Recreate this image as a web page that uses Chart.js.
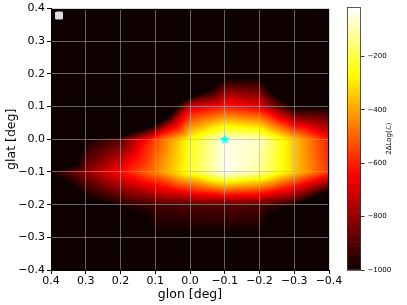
<!DOCTYPE html>
<html>
<head>
<meta charset="utf-8">
<script src="https://cdn.jsdelivr.net/npm/chart.js@4.4.1/dist/chart.umd.min.js"></script>
<style>
  html, body { margin: 0; padding: 0; background: #fff; }
  #wrap { position: relative; width: 407px; height: 305px; }
  #main { position: absolute; left: 0; top: 0; }
  #cbar { position: absolute; left: 329px; top: 0; }
</style>
</head>
<body>
<div id="wrap">
  <canvas id="main" width="407" height="305" style="width:407px;height:305px"></canvas>
  <canvas id="cbar" width="78" height="305" style="width:78px;height:305px"></canvas>
</div>
<script>
// grid nodes (deg) and 2ΔLog(L), rows go from glat 0.4 down to -0.4
const glonVals = [0.4, 0.3, 0.2, 0.1, 0.0, -0.1, -0.2, -0.3, -0.4];
const glatVals = [0.4, 0.3, 0.2, 0.1, 0.0, -0.1, -0.2, -0.3, -0.4];
const tsGrid = [
  [-3000, -3000, -3000, -3000, -3000, -3000, -3000, -3000, -3000],
  [-2800, -2700, -2600, -2400, -2200, -2000, -2000, -2200, -2400],
  [-2500, -2400, -2200, -2000, -1700, -1045, -1045, -1600, -1700],
  [-2200, -2100, -2000, -1500,  -690,  -590,  -660, -1000, -1000],
  [-2000, -1000,  -880,  -540,  -250,   -35,   -70,  -350,  -600],
  [ -985,  -820,  -630,  -460,  -230,   -30,  -110,  -340,  -570],
  [-1300, -1060,  -970,  -920,  -900,  -890,  -900,  -990, -1300],
  [-2000, -1700, -1300, -1012, -1010, -1010, -1012, -1400, -2000],
  [-2600, -2400, -2200, -2000, -1900, -1900, -2000, -2200, -2500]
];
const starLon = [-0.1];
const starLat = [0.0];
const xTicks = [0.4, 0.3, 0.2, 0.1, 0.0, -0.1, -0.2, -0.3, -0.4];
const yTicks = [-0.4, -0.3, -0.2, -0.1, 0.0, 0.1, 0.2, 0.3, 0.4];
const cbTicks = [-200, -400, -600, -800, -1000];
const tsMin = -1000;
const tsMax = -16;
const nLevels = 100;

Chart.defaults.font.family = "'DejaVu Sans', sans-serif";
Chart.defaults.color = '#000';

function hot(t) {
  t = Math.max(0, Math.min(1, t));
  const r = t < 0.365079 ? 0.0416 + (1 - 0.0416) * t / 0.365079 : 1;
  const g = t < 0.365079 ? 0 : (t < 0.746032 ? (t - 0.365079) / (0.746032 - 0.365079) : 1);
  const b = t < 0.746032 ? 0 : (t - 0.746032) / (1 - 0.746032);
  return [Math.round(r * 255), Math.round(g * 255), Math.round(b * 255)];
}
function levelColor(v) {
  const step = (tsMax - tsMin) / nLevels;
  let k = Math.floor((v - tsMin) / step);
  if (k < 0) k = 0;
  if (k > nLevels - 1) k = nLevels - 1;
  return hot((k + 0.5) / nLevels);
}

// linear interpolation on 4 triangles per cell (centre = mean of the corners)
function tsAt(lon, lat) {
  const dLon = glonVals[0] - glonVals[1];
  const dLat = glatVals[0] - glatVals[1];
  const fi = (glonVals[0] - lon) / dLon;
  const fj = (glatVals[0] - lat) / dLat;
  const i = Math.min(Math.max(Math.floor(fi), 0), glonVals.length - 2);
  const j = Math.min(Math.max(Math.floor(fj), 0), glatVals.length - 2);
  const u = fi - i, v = fj - j;
  const a = tsGrid[j][i], b = tsGrid[j][i + 1];
  const c = tsGrid[j + 1][i], d = tsGrid[j + 1][i + 1];
  const m = (a + b + c + d) / 4;
  if (v <= u && v <= 1 - u) return a + (b - a) * u + (2 * m - a - b) * v;
  if (v >= u && v >= 1 - u) return c + (d - c) * u + (2 * m - c - d) * (1 - v);
  if (u <= v && u <= 1 - v) return a + (c - a) * v + (2 * m - a - c) * u;
  return b + (d - b) * v + (2 * m - b - d) * (1 - u);
}

function fmtTick(val) {
  if (Math.abs(val) < 1e-9) return '0.0';
  return val.toFixed(1).replace('-', '\u2212');
}

function makeStar(size, color) {
  const c = document.createElement('canvas');
  c.width = size; c.height = size;
  const g = c.getContext('2d');
  const R = size / 2, r = R * 0.382;
  g.beginPath();
  for (let k = 0; k < 10; k++) {
    const ang = -Math.PI / 2 + k * Math.PI / 5;
    const rad = k % 2 === 0 ? R : r;
    g.lineTo(R + rad * Math.cos(ang), R + rad * Math.sin(ang));
  }
  g.closePath();
  g.fillStyle = color;
  g.fill();
  return c;
}

let heatImg = null;
const heatmapPlugin = {
  id: 'heatmap',
  beforeDraw(chart) {
    const area = chart.chartArea;
    const xs = chart.scales.x, ys = chart.scales.y;
    const w = Math.round(area.right - area.left), h = Math.round(area.bottom - area.top);
    if (!heatImg) {
      heatImg = document.createElement('canvas');
      heatImg.width = w; heatImg.height = h;
      const g = heatImg.getContext('2d');
      const img = g.createImageData(w, h);
      for (let py = 0; py < h; py++) {
        const lat = ys.getValueForPixel(area.top + py + 0.5);
        for (let px = 0; px < w; px++) {
          const lon = xs.getValueForPixel(area.left + px + 0.5);
          const col = levelColor(tsAt(lon, lat));
          const o = (py * w + px) * 4;
          img.data[o] = col[0]; img.data[o + 1] = col[1]; img.data[o + 2] = col[2]; img.data[o + 3] = 255;
        }
      }
      g.putImageData(img, 0, 0);
    }
    chart.ctx.drawImage(heatImg, Math.round(area.left), Math.round(area.top));
  },
  afterDraw(chart) {
    const ctx = chart.ctx, a = chart.chartArea;
    ctx.save();
    ctx.strokeStyle = '#000';
    ctx.lineWidth = 1;
    ctx.strokeRect(Math.round(a.left) + 0.5, Math.round(a.top) + 0.5,
      Math.round(a.right - a.left) - 1, Math.round(a.bottom - a.top) - 1);
    // empty legend frame
    ctx.fillStyle = '#dcdcdc';
    ctx.beginPath();
    ctx.roundRect(a.left + 4, a.top + 3, 8, 8, 1.5);
    ctx.fill();
    ctx.restore();
  }
};

const starData = starLon.map((lon, k) => ({ x: lon, y: starLat[k] }));

new Chart(document.getElementById('main'), {
  type: 'scatter',
  data: {
    datasets: [{
      data: starData,
      pointStyle: makeStar(11, '#00ffff'),
      pointRadius: 5
    }]
  },
  options: {
    responsive: false,
    animation: false,
    layout: { padding: { left: 0, top: 8, right: 78, bottom: 0 } },
    plugins: { legend: { display: false }, tooltip: { enabled: false } },
    scales: {
      x: {
        type: 'linear',
        reverse: true,
        min: -0.4,
        max: 0.4,
        afterBuildTicks: s => { s.ticks = xTicks.map(v => ({ value: v })); },
        afterFit: s => { s.height = 35; },
        ticks: { callback: fmtTick, font: { size: 11 }, padding: 1, maxRotation: 0, autoSkip: false },
        grid: { color: 'rgba(176,176,176,0.55)', tickColor: '#000', tickLength: 4, lineWidth: 1 },
        border: { color: '#000' },
        title: { display: true, text: 'glon [deg]', font: { size: 12.5 }, padding: { top: 0, bottom: 3 } }
      },
      y: {
        type: 'linear',
        min: -0.4,
        max: 0.4,
        afterBuildTicks: s => { s.ticks = yTicks.map(v => ({ value: v })); },
        afterFit: s => { s.width = 51; },
        ticks: { callback: fmtTick, font: { size: 11 }, padding: 2, autoSkip: false },
        grid: { color: 'rgba(176,176,176,0.55)', tickColor: '#000', tickLength: 4, lineWidth: 1 },
        border: { color: '#000' },
        title: { display: true, text: 'glat [deg]', font: { size: 12.5 }, padding: { top: 4, bottom: 0 } }
      }
    }
  },
  plugins: [heatmapPlugin]
});

const colorbarPlugin = {
  id: 'colorbar',
  beforeDraw(chart) {
    const ctx = chart.ctx, a = chart.chartArea, ys = chart.scales.y;
    const step = (tsMax - tsMin) / nLevels;
    for (let k = 0; k < nLevels; k++) {
      const y0 = ys.getPixelForValue(tsMin + k * step);
      const y1 = ys.getPixelForValue(tsMin + (k + 1) * step);
      const c = hot((k + 0.5) / nLevels);
      ctx.fillStyle = 'rgb(' + c[0] + ',' + c[1] + ',' + c[2] + ')';
      ctx.fillRect(a.left, y1, a.right - a.left, y0 - y1 + 0.6);
    }
  },
  afterDraw(chart) {
    const ctx = chart.ctx, a = chart.chartArea;
    ctx.save();
    ctx.strokeStyle = '#333';
    ctx.lineWidth = 0.8;
    ctx.strokeRect(Math.round(a.left) + 0.5, Math.round(a.top) + 0.5,
      Math.round(a.right - a.left) - 1, Math.round(a.bottom - a.top) - 1);
    ctx.translate(60, (a.top + a.bottom) / 2);
    ctx.rotate(-Math.PI / 2);
    ctx.fillStyle = '#000';
    ctx.font = "7px 'DejaVu Sans', sans-serif";
    ctx.textAlign = 'center';
    ctx.textBaseline = 'middle';
    ctx.fillText('2\u0394Log(\u2112)', 0, 0);
    ctx.restore();
  }
};

new Chart(document.getElementById('cbar'), {
  type: 'scatter',
  data: { datasets: [{ data: [] }] },
  options: {
    responsive: false,
    animation: false,
    layout: { padding: { left: 18, top: 7, right: 0, bottom: 35 } },
    plugins: { legend: { display: false }, tooltip: { enabled: false } },
    scales: {
      x: { display: false, min: 0, max: 1 },
      y: {
        type: 'linear',
        position: 'right',
        min: tsMin,
        max: tsMax,
        afterBuildTicks: s => { s.ticks = cbTicks.map(v => ({ value: v })); },
        afterFit: s => { s.width = 46; },
        ticks: {
          callback: v => String(v).replace('-', '\u2212'),
          font: { size: 7 }, padding: 3, autoSkip: false
        },
        grid: { drawOnChartArea: false, tickColor: '#000', tickLength: 3.5, lineWidth: 0.8 },
        border: { display: false }
      }
    }
  },
  plugins: [colorbarPlugin]
});
</script>
</body>
</html>
